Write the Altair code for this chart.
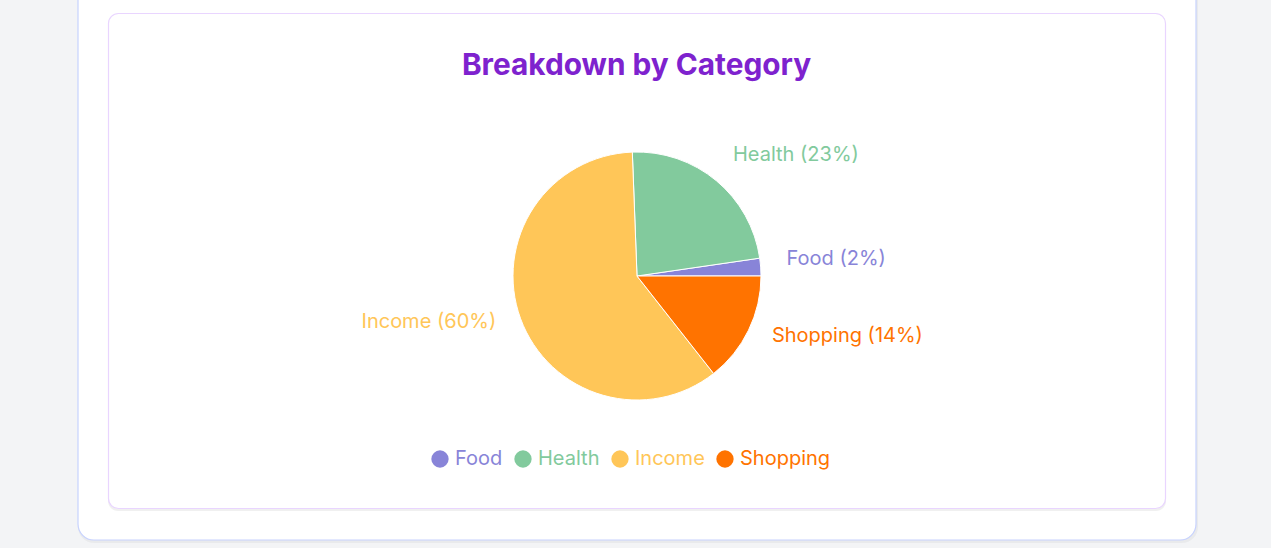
import math
import altair as alt
import pandas as pd

# ---- data ----
categories = ["Food", "Health", "Income", "Shopping"]
values = [2.3, 23.3, 60.0, 14.4]
colors = ["#8884d8", "#82ca9d", "#ffc658", "#ff7300"]
title_text = "Breakdown by Category"

df = pd.DataFrame({"category": categories, "value": values})
one = pd.DataFrame({"k": [0]})

FONT = "Inter"
CX, CY = 637, 276

# ---- decorative cards ----
outer_shadow = alt.Chart(one).mark_rect(cornerRadius=16, fill="#000000", opacity=0.04).encode(
    x=alt.value(78), x2=alt.value(1198), y=alt.value(-20), y2=alt.value(543))
outer_card = alt.Chart(one).mark_rect(cornerRadius=16, fill="#ffffff", stroke="#c7d2fe", strokeWidth=1.2).encode(
    x=alt.value(78), x2=alt.value(1196), y=alt.value(-20), y2=alt.value(540))
inner_shadow = alt.Chart(one).mark_rect(cornerRadius=10, fill="#000000", opacity=0.06).encode(
    x=alt.value(108), x2=alt.value(1166), y=alt.value(14), y2=alt.value(511))
inner_card = alt.Chart(one).mark_rect(cornerRadius=10, fill="#ffffff", stroke="#e9d5ff", strokeWidth=1.2).encode(
    x=alt.value(108.5), x2=alt.value(1165.5), y=alt.value(13.5), y2=alt.value(508.5))

title = alt.Chart(pd.DataFrame({"t": [title_text]})).mark_text(
    font=FONT, fontSize=29.8, fontWeight=700, color="#7e22ce", align="center", baseline="middle"
).encode(text="t:N", x=alt.value(636.5), y=alt.value(66))

# ---- pie ----
legend = alt.Legend(
    title=None, orient="none", direction="horizontal", legendX=430, legendY=449,
    symbolType="circle", symbolSize=300, symbolStrokeWidth=0, symbolOpacity=1,
    labelFont=FONT, labelFontSize=20, labelOffset=5, columnPadding=10, padding=0,
    labelColor={"expr": "scale('color', datum.value)"},
)

color = alt.Color("category:N", scale=alt.Scale(domain=categories, range=colors), legend=legend)
theta_scale = alt.Scale(range=[math.pi / 2, math.pi / 2 + 2 * math.pi])
order = alt.Order("category:N", sort="descending")

pie = alt.Chart(df).mark_arc(outerRadius=124, stroke="#ffffff", strokeWidth=1).encode(
    theta=alt.Theta("value:Q", stack=True, scale=theta_scale),
    color=color, order=order, x=alt.value(CX), y=alt.value(CY))

labelled = alt.Chart(df).transform_joinaggregate(total="sum(value)").transform_stack(
    stack="value", as_=["s0", "s1"], groupby=[],
    sort=[alt.SortField("category", order="descending")]
).transform_calculate(
    mid="(datum.s0 + datum.s1) / 2",
    label="datum.category + ' (' + round(datum.value / datum.total * 100) + '%)'",
).encode(
    theta=alt.Theta("mid:Q", stack=None, scale=theta_scale),
    color=color, x=alt.value(CX), y=alt.value(CY), text="label:N")

labels_right = labelled.transform_filter("datum.category != 'Income'").mark_text(
    radius=150, align="left", baseline="middle", dy=-6, font=FONT, fontSize=20)
labels_left = labelled.transform_filter("datum.category == 'Income'").mark_text(
    radius=150, align="right", baseline="middle", dy=-6, font=FONT, fontSize=20)

chart = alt.layer(
    outer_shadow, outer_card, inner_shadow, inner_card, title, pie, labels_right, labels_left
).properties(
    width=1271, height=548, autosize=alt.AutoSizeParams(type="none"), padding=0,
    background="#f3f4f6"
).configure_view(stroke=None)

chart.save("out.html", embed_options={"renderer": "svg", "actions": False})
